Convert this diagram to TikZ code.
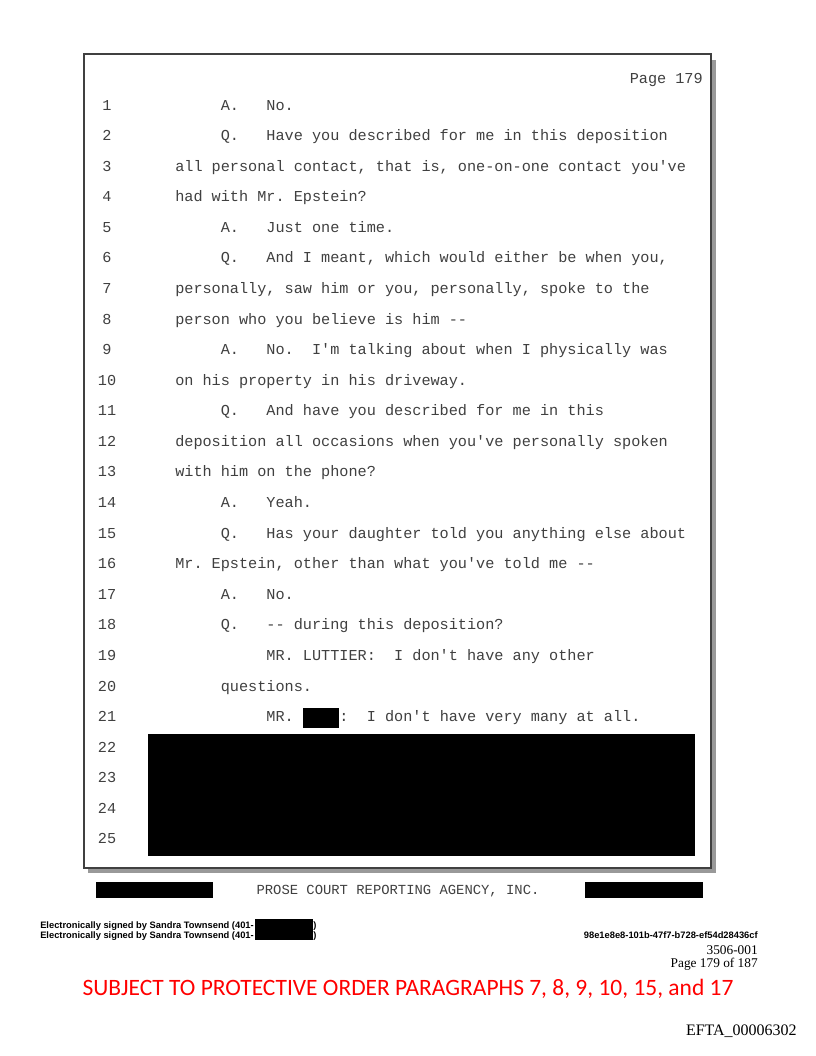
\documentclass[tikz,border=0pt]{standalone}
\usepackage{fontspec}
\setmainfont{Liberation Serif}
\setsansfont{Liberation Sans}
\setmonofont{Liberation Mono}
\newfontfamily\calib{Carlito}
\frenchspacing
\begin{document}
\begin{tikzpicture}[x=0.75pt,y=-0.75pt,
  mono/.style={inner sep=0pt,font=\fontsize{11.4}{13}\ttfamily,text=black!75},
  num/.style={mono,anchor=base},
  txt/.style={mono,anchor=base west},
  redact/.style={fill=black,draw=none},
  sig/.style={inner sep=0pt,anchor=base west,font=\fontsize{7}{8}\sffamily\bfseries},
  serifsm/.style={inner sep=0pt,anchor=base east,font=\fontsize{10}{11}\rmfamily}]
\useasboundingbox (0,0) rectangle (816,1056);
\fill[white] (0,0) rectangle (816,1056);
% frame with shadow
\fill[black!40] (88,60) rectangle (716,873);
\filldraw[fill=white,draw=black!75,line width=0.9pt] (84,54) rectangle (711,868);
\node[mono,anchor=base east] (pg) at (703,84) {Page 179};
\newcommand\ind{\hspace*{3em}}
\newcommand\dind{\hspace*{6em}}
\newcommand\blk{\textcolor{black}{\rule[-4.8pt]{2.4em}{15pt}}}
\foreach \n/\t in {
 1/{\ind A.\ \ \ No.},
 2/{\ind Q.\ \ \ Have you described for me in this deposition},
 3/{all personal contact, that is, one-on-one contact you've},
 4/{had with Mr. Epstein?},
 5/{\ind A.\ \ \ Just one time.},
 6/{\ind Q.\ \ \ And I meant, which would either be when you,},
 7/{personally, saw him or you, personally, spoke to the},
 8/{person who you believe is him --},
 9/{\ind A.\ \ \ No.\ \ I'm talking about when I physically was},
 10/{on his property in his driveway.},
 11/{\ind Q.\ \ \ And have you described for me in this},
 12/{deposition all occasions when you've personally spoken},
 13/{with him on the phone?},
 14/{\ind A.\ \ \ Yeah.},
 15/{\ind Q.\ \ \ Has your daughter told you anything else about},
 16/{Mr. Epstein, other than what you've told me --},
 17/{\ind A.\ \ \ No.},
 18/{\ind Q.\ \ \ -- during this deposition?},
 19/{\dind MR. LUTTIER:\ \ I don't have any other},
 20/{\ind questions.},
 21/{\dind MR.\ \blk:\ \ I don't have very many at all.},
 22/{}, 23/{}, 24/{}, 25/{}}
{
  \node[txt] (t\n) at (175,{110+(\n-1)*30.58}) {\t};
}
\foreach \n in {1,...,25}{
  \node[num] (n\n) at (107,{110+(\n-1)*30.58}) {\n};
}
% redaction block
\fill[redact] (148,734) rectangle (695,856);
% footer
\fill[redact] (96,882) rectangle (213,898);
\fill[redact] (585,882) rectangle (703,898);
\node[inner sep=0pt,anchor=base,font=\fontsize{10.4}{12}\ttfamily,text=black!75] (prose) at (398,894) {PROSE COURT REPORTING AGENCY, INC.};
% signatures
\node[sig] (s1) at (40,928) {Electronically signed by Sandra Townsend (401-};
\node[sig] (s2) at (40,938) {Electronically signed by Sandra Townsend (401-};
\fill[redact] (255,919) rectangle (313,940);
\node[sig] (p1) at (313,928) {)};
\node[sig] (p2) at (313,938) {)};
\node[sig,anchor=base east] (hash) at (758,938) {98e1e8e8-101b-47f7-b728-ef54d28436cf};
\node[serifsm] (code) at (758,954) {3506-001};
\node[serifsm] (pgof) at (758,967) {Page 179 of 187};
\node[inner sep=0pt,anchor=base,font=\fontsize{17.6}{20}\calib,text={rgb,255:red,255;green,0;blue,0}] (prot) at (408,995) {SUBJECT TO PROTECTIVE ORDER PARAGRAPHS 7, 8, 9, 10, 15, and 17};
\node[inner sep=0pt,anchor=base east,font=\fontsize{12}{14}\rmfamily] (efta) at (797,1035) {EFTA\_00006302};
\end{tikzpicture}
\end{document}
